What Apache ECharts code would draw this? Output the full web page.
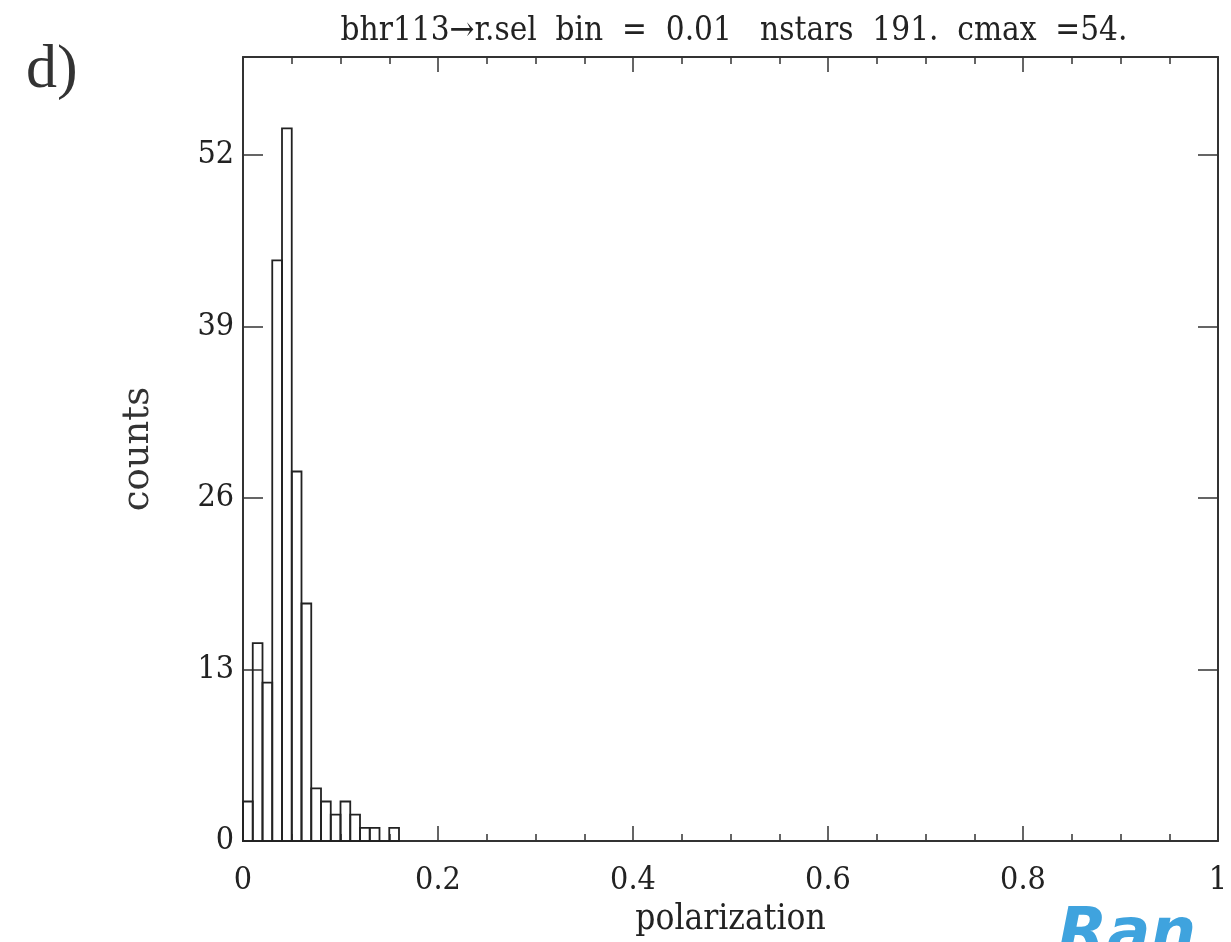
<!DOCTYPE html>
<html>
<head>
<meta charset="utf-8">
<script src="https://cdn.jsdelivr.net/npm/echarts@6/dist/echarts.min.js"></script>
<style>
  html, body {margin:0; padding:0; background:#fff;}
  #main {width:1231px; height:942px;}
</style>
</head>
<body>
<div id="main"></div>
<script>
// histogram of polarization, bin = 0.01
let binStart = [0, 0.01, 0.02, 0.03, 0.04, 0.05, 0.06, 0.07, 0.08, 0.09, 0.10, 0.11, 0.12, 0.13, 0.14, 0.15];
let counts   = [3, 15, 12, 44, 54, 28, 18, 4, 3, 2, 3, 2, 1, 1, 0, 1];
let binWidth = 0.01;
let yTicks = [0, 13, 26, 39, 52];
let yMax = 59.4;  // cmax * 1.1

let font = 'DejaVu Serif Condensed';
let ink = '#222';

let bars = [];
for (let i = 0; i < counts.length; i++){
    bars.push([binStart[i], counts[i]]);
}

function renderBin(params, api){
    let x0 = api.value(0);
    let c = api.value(1);
    let p0 = api.coord([x0, c]);
    let p1 = api.coord([x0 + binWidth, 0]);
    return {
        type: 'rect',
        shape: {x: p0[0], y: p0[1], width: p1[0] - p0[0], height: p1[1] - p0[1]},
        style: {fill: 'none', stroke: ink, lineWidth: 1.8}
    };
}

let frameLine = {show: true, onZero: false, lineStyle: {color: '#333', width: 2}};
let tickStyle = {color: '#333', width: 1.5};

let option = {
    animation: false,
    backgroundColor: '#fff',
    grid: {left: 243, right: 13, top: 57, bottom: 100},
    graphic: [
        {type: 'text', left: 26, top: 40,
         style: {text: 'd)', font: '62px "Liberation Serif"', fill: '#333'}},
        {type: 'text', x: 734, y: 15,
         style: {text: 'bhr113\u2192r.sel  bin  =  0.01   nstars  191.  cmax  =54.',
                 font: '33px "' + font + '"', fill: ink, align: 'center'}},
        {type: 'text', x: 1058, y: 904, z: 10,
         style: {text: 'Ran', font: 'bold italic 64px "DejaVu Sans"', fill: '#3fa3de'}}
    ],
    xAxis: [{
        type: 'value', min: 0, max: 1, interval: 0.2,
        name: 'polarization', nameLocation: 'middle', nameGap: 58,
        nameTextStyle: {fontFamily: font, fontSize: 35, color: ink},
        axisLine: frameLine,
        axisTick: {show: true, inside: true, length: 15, lineStyle: tickStyle},
        minorTick: {show: true, splitNumber: 4, length: 7, lineStyle: tickStyle},
        splitLine: {show: false},
        axisLabel: {fontFamily: font, fontSize: 32, color: ink, margin: 24}
    }, {
        type: 'value', min: 0, max: 1, interval: 0.2, position: 'top',
        axisLine: frameLine,
        axisTick: {show: true, inside: true, length: 15, lineStyle: tickStyle},
        minorTick: {show: true, splitNumber: 4, length: 7, lineStyle: tickStyle},
        splitLine: {show: false},
        axisLabel: {show: false}
    }],
    yAxis: [{
        type: 'value', min: 0, max: yMax, interval: 13,
        name: 'counts', nameLocation: 'middle', nameGap: 86, nameRotate: 90,
        nameTextStyle: {fontFamily: 'DejaVu Serif', fontSize: 37, color: '#333'},
        axisLine: frameLine,
        axisTick: {show: true, inside: true, length: 20, lineStyle: tickStyle},
        splitLine: {show: false},
        axisLabel: {fontFamily: font, fontSize: 32, color: ink, margin: 9,
                    showMaxLabel: false,
                    formatter: v => yTicks.indexOf(v) >= 0 ? String(v) : ''}
    }, {
        type: 'value', min: 0, max: yMax, interval: 13, position: 'right',
        axisLine: frameLine,
        axisTick: {show: true, inside: true, length: 20, lineStyle: tickStyle},
        splitLine: {show: false},
        axisLabel: {show: false}
    }],
    series: [{
        type: 'custom',
        xAxisIndex: 0,
        yAxisIndex: 0,
        renderItem: renderBin,
        encode: {x: 0, y: 1},
        data: bars
    }]
};

let chart = echarts.init(document.getElementById('main'));
chart.setOption(option);
</script>
</body>
</html>
